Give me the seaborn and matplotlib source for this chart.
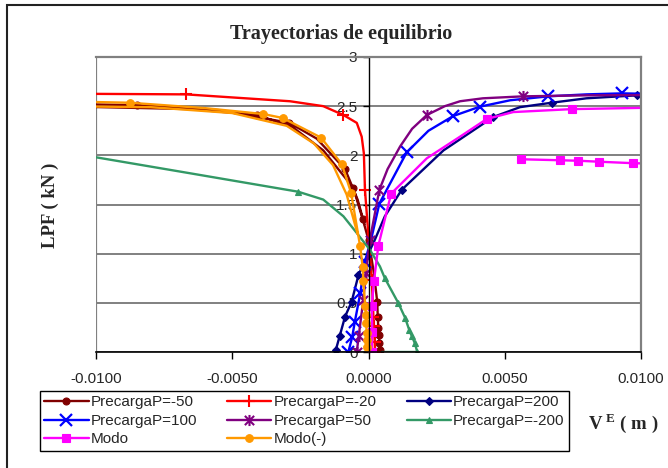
import numpy as np
import pandas as pd
import matplotlib
matplotlib.use("Agg")
import matplotlib.pyplot as plt
from matplotlib.lines import Line2D
from matplotlib.path import Path
from matplotlib.patches import Rectangle
from matplotlib.ticker import FuncFormatter
import seaborn as sns

# ---------------- data ----------------
labels = ["PrecargaP=-50", "PrecargaP=-20", "PrecargaP=200", "PrecargaP=100",
          "PrecargaP=50", "PrecargaP=-200", "Modo", "Modo(-)"]

x_m50 = [0.00042, 0.00041, 0.0004, 0.00038, 0.00036, 0.00034, 0.00032, 0.0002, 0.0, -0.00021,
         -0.00056, -0.00166, -0.0028, -0.0041, -0.0065, -0.0115, -0.0115, -0.0085, -0.0055,
         -0.0029, -0.0019, -0.00086, -0.0004, -0.00015]
y_m50 = [0.0, 0.02, 0.09, 0.17, 0.24, 0.36, 0.51, 0.8, 1.14, 1.35,
         1.67, 2.05, 2.29, 2.41, 2.47, 2.50, 2.525, 2.51, 2.46,
         2.33, 2.17, 1.86, 1.55, 1.3]
mk_m50 = [1, 2, 3, 4, 5, 6, 8, 9, 10, 13, 17, 19, 21]

x_m20 = [0.00024, 0.00023, 0.0002, 0.00018, 0.00012, 0.00002, -0.00013, -0.00017, -0.00025,
         -0.00043, -0.00092, -0.00166, -0.00288, -0.0067, -0.0100, -0.0115]
y_m20 = [0.0, 0.1, 0.26, 0.36, 0.73, 1.1, 1.65, 2.02, 2.19,
         2.33, 2.41, 2.50, 2.55, 2.62, 2.625, 2.625]
mk_m20 = [0, 1, 2, 3, 4, 5, 6, 10, 13]

x_200 = [-0.00123, -0.0012, -0.00106, -0.00086, -0.00062, -0.00037, -0.0001, 0.0002, 0.0006,
         0.00122, 0.00275, 0.00458, 0.00556, 0.00672, 0.0080, 0.00984, 0.0115]
y_200 = [0.0, 0.02, 0.16, 0.36, 0.51, 0.78, 0.95, 1.12, 1.38,
         1.65, 2.05, 2.39, 2.49, 2.535, 2.58, 2.61, 2.62]
mk_200 = [1, 2, 3, 4, 5, 9, 11, 13, 15]

x_100 = [-0.00074, -0.0006, -0.0005, -0.0003, -0.00013, 0.0001, 0.0004, 0.0014, 0.0022,
         0.00311, 0.00409, 0.0052, 0.0066, 0.0080, 0.00929, 0.0115]
y_100 = [0.0, 0.15, 0.31, 0.6, 0.92, 1.15, 1.51, 2.03, 2.25,
         2.40, 2.495, 2.56, 2.60, 2.62, 2.63, 2.62]
mk_100 = [0, 1, 2, 3, 4, 6, 7, 9, 10, 12, 14]

x_50 = [-0.00043, -0.00036, -0.00019, -0.0001, 0.00005, 0.0004, 0.0007, 0.00116, 0.0016,
        0.00214, 0.0028, 0.00336, 0.0042, 0.00568, 0.008, 0.0115]
y_50 = [0.0, 0.16, 0.53, 0.8, 1.14, 1.65, 1.86, 2.09, 2.27,
        2.41, 2.50, 2.55, 2.58, 2.60, 2.61, 2.615]
mk_50 = [0, 1, 2, 3, 4, 5, 9, 13]

x_m200 = [0.0005, 0.00179, 0.0017, 0.00159, 0.0015, 0.00134, 0.00109, 0.0006, 0.00042, 0.00005,
          -0.00043, -0.00092, -0.00166, -0.00258, -0.0066, -0.0100, -0.0115]
y_m200 = [0.0, 0.0, 0.09, 0.16, 0.22, 0.35, 0.50, 0.75, 0.87, 1.04,
          1.21, 1.38, 1.55, 1.63, 1.82, 1.98, 2.05]
mk_m200 = [1, 2, 3, 4, 5, 6, 7, 13]

x_modo = [0.00012, 0.00014, 0.00012, 0.0002, 0.00036, 0.00083, 0.00214, 0.00336, 0.00434,
          0.00531, 0.00746, 0.0115, 0.0115, 0.00972, 0.00847, 0.0077, 0.00703, 0.0056]
y_modo = [0.0, 0.2, 0.47, 0.72, 1.08, 1.61, 1.97, 2.19, 2.37,
          2.44, 2.47, 2.49, 1.91, 1.92, 1.935, 1.945, 1.95, 1.96]
mk_modo = [0, 1, 2, 3, 4, 5, 8, 10, 13, 14, 15, 16, 17]

x_modon = [-0.00005, -0.00005, -0.00006, -0.00007, -0.00008, -0.0001, -0.00012, -0.00019,
           -0.00021, -0.00031, -0.00064, -0.00098, -0.00174, -0.00315, -0.00386, -0.006,
           -0.00875, -0.0115, -0.0115, -0.008, -0.005, -0.003, -0.002, -0.0013, -0.0008, -0.0004]
y_modon = [0.0, 0.05, 0.12, 0.19, 0.29, 0.38, 0.47, 0.72,
           0.86, 1.08, 1.62, 1.91, 2.18, 2.38, 2.42, 2.48,
           2.535, 2.55, 2.50, 2.49, 2.43, 2.30, 2.12, 1.9, 1.6, 1.2]
mk_modon = [1, 2, 3, 4, 5, 6, 7, 8, 9, 10, 11, 12, 13, 14, 16]

xticks = [-0.01, -0.005, 0.0, 0.005, 0.01]
yticks = [0, 0.5, 1, 1.5, 2, 2.5, 3]

# ---------------- style ----------------
sns.set_theme(style="white")
plt.rcParams['font.family'] = ['Liberation Sans', 'DejaVu Sans']
plt.rcParams['mathtext.fontset'] = 'custom'
plt.rcParams['mathtext.rm'] = 'Liberation Serif:bold'
plt.rcParams['mathtext.bf'] = 'Liberation Serif:bold'

star = Path([(-1, -1), (1, 1), (-1, 1), (1, -1), (0, -1.2), (0, 1.2)],
            [Path.MOVETO, Path.LINETO, Path.MOVETO, Path.LINETO, Path.MOVETO, Path.LINETO])

series = [
    (x_m50, y_m50, mk_m50, "#800000", "o", 5.0, 0.8),
    (x_m20, y_m20, mk_m20, "#FF0000", "+", 9.0, 1.5),
    (x_200, y_200, mk_200, "#000080", "D", 4.0, 0.8),
    (x_100, y_100, mk_100, "#0000FF", "x", 9.0, 1.6),
    (x_50, y_50, mk_50, "#800080", star, 8.0, 1.5),
    (x_m200, y_m200, mk_m200, "#339966", "^", 5.0, 0.8),
    (x_modo, y_modo, mk_modo, "#FF00FF", "s", 5.5, 0.8),
    (x_modon, y_modon, mk_modon, "#FF9900", "o", 5.5, 0.8),
]

fig = plt.figure(figsize=(6.68, 4.68), dpi=100)
ax = fig.add_axes([96 / 668, 1 - 352 / 468, (641 - 96) / 668, (352 - 57) / 468])
ax.set_facecolor("white")

handles = []
for (xs, ys, mk, col, mrk, ms, mew), lab in zip(series, labels):
    df = pd.DataFrame({"x": xs, "y": ys})
    sns.lineplot(data=df, x="x", y="y", sort=False, estimator=None, ax=ax,
                 color=col, lw=1.7, marker=mrk, markevery=mk, markersize=ms,
                 markerfacecolor=col, markeredgecolor=col, markeredgewidth=mew,
                 legend=False)
    handles.append(Line2D([], [], color=col, lw=1.7, marker=mrk, markersize=ms,
                          markerfacecolor=col, markeredgecolor=col, markeredgewidth=mew))

ax.set_xlim(-0.01, 0.01)
ax.set_ylim(0, 3)
ax.set_xticks(xticks)
ax.set_yticks(yticks)
ax.xaxis.set_major_formatter(FuncFormatter(lambda v, p: f"{v:.4f}"))
ax.yaxis.set_major_formatter(FuncFormatter(lambda v, p: f"{v:g}"))
ax.set_xlabel("")
ax.set_ylabel("")

ax.set_axisbelow(True)
ax.yaxis.grid(True, color="#808080", lw=1.4)
ax.xaxis.grid(False)

ax.spines['left'].set_position(('data', 0))
ax.spines['left'].set_color("black")
ax.spines['left'].set_linewidth(1.0)
ax.spines['bottom'].set_color("black")
ax.spines['bottom'].set_linewidth(1.2)
for s in ("top", "right"):
    ax.spines[s].set_color("#808080")
    ax.spines[s].set_linewidth(1.6)
ax.axvline(-0.01, color="#808080", lw=1.6, zorder=0.6)

ax.tick_params(axis="x", direction="out", length=5, width=1, color="black",
               labelsize=11, pad=9.5, bottom=True)
ax.tick_params(axis="y", direction="out", length=4, width=1, color="black",
               labelsize=11, pad=4, left=True)

# title and axis labels
fig.text(341 / 668, 1 - 34 / 468, "Trayectorias de equilibrio", ha="center", va="center",
         family="Liberation Serif", fontweight="bold", fontsize=14.5)
fig.text(50 / 668, 1 - 205 / 468, "LPF ( kN )", ha="center", va="center", rotation=90,
         family="Liberation Serif", fontweight="bold", fontsize=13.5)
fig.text(588 / 668, 1 - 423 / 468, r"V$^{\ \mathrm{E}}$ ( m )", ha="left", va="center",
         family="Liberation Serif", fontweight="bold", fontsize=13.5)

# legend (matplotlib fills column-major)
order = [0, 3, 6, 1, 4, 7, 2, 5]
leg = fig.legend([handles[i] for i in order], [labels[i] for i in order], ncol=3,
                 loc="upper left", bbox_to_anchor=(40 / 668, 1 - 391 / 468),
                 frameon=True, fancybox=False, edgecolor="black", framealpha=1,
                 fontsize=11, handlelength=2.9, handletextpad=0.15, columnspacing=1.95,
                 labelspacing=0.3, borderpad=0.28, borderaxespad=0)
leg.get_frame().set_linewidth(1.0)

# outer chart frame
fig.patches.append(Rectangle((7 / 668, -0.02), 1.02, 1 - 5 / 468 + 0.02, transform=fig.transFigure,
                             fill=False, edgecolor="#222222", lw=1.5))

fig.savefig("out.png", dpi=100)
